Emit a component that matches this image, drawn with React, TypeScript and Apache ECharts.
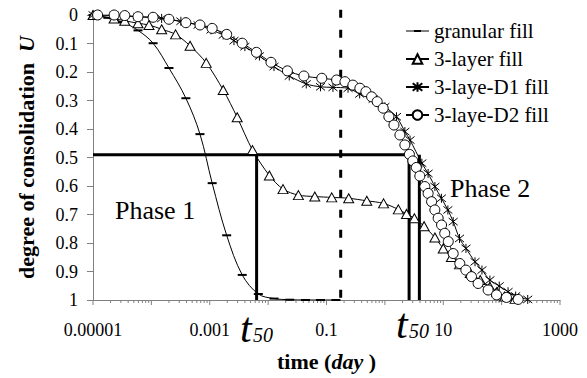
import React, { useEffect, useRef } from 'react';
import * as echarts from 'echarts';

// x-axis decade labels (every second decade is labelled)
const xTickLabels = ['0.00001', '0.001', '0.1', '10', '1000'];

// granular fill
const granularT = [1e-5, 1.8e-5, 3.2e-5, 5.9e-5, 1.07e-4, 2.0e-4, 3.9e-4, 6.8e-4, 1.1e-3, 1.95e-3, 3.6e-3, 6.8e-3, 0.0126, 0.0234, 0.0437, 0.079, 0.145];
const granularU = [0, 0.01, 0.025, 0.054, 0.099, 0.186, 0.292, 0.418, 0.59, 0.773, 0.912, 0.979, 0.995, 0.999, 1, 1, 1];

// 3-layer fill
const layer3T = [1e-5, 2.3e-5, 3.5e-5, 5.9e-5, 9.1e-5, 1.5e-4, 2.6e-4, 4.6e-4, 8.7e-4, 1.7e-3, 2.95e-3, 5.4e-3, 0.0105, 0.018, 0.033, 0.063, 0.123, 0.24, 0.49, 0.95, 1.7, 2.35, 3.2, 4.7, 7.2, 10, 13.8, 19, 29, 43, 63, 83, 112, 170];
const layer3U = [0, 0.012, 0.02, 0.029, 0.035, 0.05, 0.068, 0.108, 0.168, 0.263, 0.359, 0.474, 0.563, 0.611, 0.632, 0.637, 0.64, 0.643, 0.652, 0.661, 0.682, 0.698, 0.713, 0.741, 0.781, 0.819, 0.849, 0.875, 0.905, 0.93, 0.954, 0.972, 0.988, 0.996];

// 3-laye-D1 fill
const d1T = [1e-5, 2.3e-5, 5.9e-5, 1.5e-4, 3.2e-4, 6.3e-4, 1.05e-3, 1.7e-3, 2.6e-3, 4.0e-3, 7.1e-3, 0.0126, 0.023, 0.045, 0.079, 0.129, 0.234, 0.37, 0.63, 1.0, 1.58, 2.2, 2.7, 4.3, 5.5, 7.2, 9.3, 12, 14.8, 19, 24.5, 35, 46, 63, 91, 129, 174, 280];
const d1U = [0, 0.002, 0.006, 0.012, 0.022, 0.035, 0.052, 0.07, 0.09, 0.111, 0.144, 0.181, 0.214, 0.242, 0.252, 0.254, 0.257, 0.277, 0.295, 0.322, 0.357, 0.409, 0.439, 0.52, 0.556, 0.602, 0.643, 0.684, 0.725, 0.784, 0.819, 0.866, 0.895, 0.93, 0.951, 0.971, 0.986, 0.998];

// 3-laye-D2 fill
const d2T = [1.2e-5, 2.3e-5, 3.5e-5, 5.9e-5, 1.07e-4, 2.0e-4, 3.9e-4, 6.8e-4, 1.1e-3, 1.95e-3, 3.6e-3, 6.3e-3, 0.0112, 0.0214, 0.041, 0.083, 0.149, 0.207, 0.283, 0.373, 0.473, 0.592, 0.738, 0.935, 1.17, 1.43, 1.81, 2.2, 2.63, 3.01, 3.46, 3.97, 4.84, 5.51, 6.31, 7.18, 8.18, 9.36, 10.6, 12.2, 14.8, 19.2, 24.4, 30.5, 39.6, 58.7, 81.8, 121, 192];
const d2U = [0, 0, 0.002, 0.006, 0.008, 0.015, 0.027, 0.035, 0.047, 0.068, 0.099, 0.131, 0.166, 0.196, 0.214, 0.222, 0.228, 0.234, 0.246, 0.257, 0.269, 0.287, 0.304, 0.327, 0.357, 0.386, 0.421, 0.456, 0.489, 0.512, 0.535, 0.565, 0.602, 0.626, 0.655, 0.684, 0.713, 0.737, 0.766, 0.795, 0.837, 0.872, 0.895, 0.918, 0.942, 0.965, 0.982, 0.991, 0.998];

// t50 construction lines
const uHalf = 0.49;
const t50Layer3 = 0.00635;
const t50D2 = 2.6;
const t50D1 = 3.9;
const tPhaseSplit = 0.175;

const SERIF = '"Liberation Serif", "Times New Roman", serif';
const AXIS_GRAY = '#808080';

const zip = (t: number[], u: number[]) => t.map((v, i) => [v, u[i]]);

// decade and 2..9 sub-decade tick positions for the log time axis
const tickData: number[][] = [];
for (let e = -5; e <= 3; e++) {
  tickData.push([Math.pow(10, e), 5]);
  if (e < 3) {
    for (let m = 2; m <= 9; m++) tickData.push([m * Math.pow(10, e), 3]);
  }
}

const markerLine = { color: '#000', width: 1 };

const textEl = (text: string, x: number, y: number, size: number, italic = false) => ({
  type: 'text',
  x,
  y,
  style: {
    text,
    fontFamily: SERIF,
    fontSize: size,
    fontStyle: italic ? 'italic' : 'normal',
    fill: '#000',
    textAlign: 'left',
    textVerticalAlign: 'middle',
  },
});

export default function App() {
  const ref = useRef<HTMLDivElement>(null);

  useEffect(() => {
    if (!ref.current) return;
    document.body.style.margin = '0';
    const chart = echarts.init(ref.current, undefined, { renderer: 'svg' });
    const thick = { color: '#000', width: 3, join: 'round' as const, cap: 'butt' as const };

    chart.setOption({
      animation: false,
      grid: { left: 93, right: 27, top: 15, bottom: 78 },
      legend: {
        orient: 'vertical',
        left: 405,
        top: 20,
        padding: 0,
        itemWidth: 23,
        itemHeight: 12,
        itemGap: 6,
        selectedMode: false,
        textStyle: { fontFamily: SERIF, fontSize: 21, color: '#000', lineHeight: 22 },
        data: [
          { name: 'granular fill', icon: 'path://M0 0.5H23V1.5H0Z M8 0H15V2H8Z' },
          '3-layer fill',
          '3-laye-D1 fill',
          '3-laye-D2 fill',
        ],
      },
      xAxis: {
        type: 'log',
        logBase: 10,
        min: 1e-5,
        max: 1000,
        splitNumber: 8,
        name: '{b|time (}{bi|day}{b| )}',
        nameLocation: 'middle',
        nameGap: 50,
        nameTextStyle: {
          rich: {
            b: { fontFamily: SERIF, fontSize: 22, fontWeight: 'bold', color: '#000' },
            bi: { fontFamily: SERIF, fontSize: 22, fontWeight: 'bold', fontStyle: 'italic', color: '#000' },
          },
        },
        axisLine: { onZero: false, lineStyle: { color: AXIS_GRAY, width: 1 } },
        axisTick: { show: false },
        splitLine: { show: false },
        axisLabel: {
          margin: 21,
          fontFamily: SERIF,
          fontSize: 18,
          color: '#000',
          formatter: (v: number) => {
            const e = Math.round(Math.log10(v)) + 5;
            return e % 2 === 0 ? xTickLabels[e / 2] ?? '' : '';
          },
        },
      },
      yAxis: {
        type: 'value',
        inverse: true,
        min: 0,
        max: 1,
        interval: 0.1,
        name: '{b|degree of consolidation  }{bi|U}',
        nameLocation: 'middle',
        nameRotate: 90,
        nameGap: 56,
        nameTextStyle: {
          rich: {
            b: { fontFamily: SERIF, fontSize: 22, fontWeight: 'bold', color: '#000' },
            bi: { fontFamily: SERIF, fontSize: 22, fontWeight: 'bold', fontStyle: 'italic', color: '#000' },
          },
        },
        axisLine: { show: true, onZero: false, lineStyle: { color: AXIS_GRAY, width: 1 } },
        axisTick: { show: true, inside: false, length: 6, lineStyle: { color: AXIS_GRAY } },
        splitLine: { show: false },
        axisLabel: { margin: 15, fontFamily: SERIF, fontSize: 18, color: '#000' },
      },
      series: [
        {
          type: 'custom',
          silent: true,
          clip: false,
          data: tickData,
          renderItem: (_p: any, api: any) => {
            const pt = api.coord([api.value(0), 1]);
            const len = api.value(1);
            return {
              type: 'line',
              shape: { x1: pt[0], y1: pt[1], x2: pt[0], y2: pt[1] + len },
              style: { stroke: AXIS_GRAY, lineWidth: 1 },
            };
          },
        },
        {
          type: 'line',
          silent: true,
          clip: false,
          symbol: 'none',
          lineStyle: { ...thick, type: [8, 12] },
          data: [[tPhaseSplit, -0.018], [tPhaseSplit, 1]],
        },
        {
          type: 'line',
          silent: true,
          symbol: 'none',
          lineStyle: thick,
          data: [[1e-5, uHalf], [t50D2, uHalf], [t50D2, 1]],
        },
        {
          type: 'line',
          silent: true,
          symbol: 'none',
          lineStyle: thick,
          data: [[t50D1, uHalf], [t50D1, 1]],
        },
        {
          type: 'line',
          silent: true,
          symbol: 'none',
          lineStyle: thick,
          data: [[t50Layer3, uHalf], [t50Layer3, 1]],
        },
        {
          name: 'granular fill',
          type: 'line',
          smooth: 0.35,
          symbol: 'rect',
          symbolSize: [9, 2],
          itemStyle: { color: '#000' },
          lineStyle: markerLine,
          data: zip(granularT, granularU),
        },
        {
          name: '3-layer fill',
          type: 'line',
          smooth: 0.3,
          symbol: 'triangle',
          symbolSize: [10, 9],
          itemStyle: { color: '#fff', borderColor: '#000', borderWidth: 1 },
          lineStyle: markerLine,
          data: zip(layer3T, layer3U),
        },
        {
          name: '3-laye-D1 fill',
          type: 'line',
          smooth: 0.3,
          symbol: 'path://M5 0L5 10M1 1L9 9M1 9L9 1',
          symbolSize: 9,
          itemStyle: { color: '#000', borderColor: '#000', borderWidth: 1 },
          lineStyle: markerLine,
          data: zip(d1T, d1U),
        },
        {
          name: '3-laye-D2 fill',
          type: 'line',
          smooth: 0.3,
          symbol: 'circle',
          symbolSize: 10,
          itemStyle: { color: '#fff', borderColor: '#000', borderWidth: 1 },
          lineStyle: markerLine,
          data: zip(d2T, d2U),
        },
      ],
      graphic: [
        textEl('Phase 1', 115, 210, 26),
        textEl('Phase 2', 450, 188, 26),
        textEl('t', 240, 328, 42, true),
        textEl('50', 253, 335, 20, true),
        textEl('t', 396, 324, 42, true),
        textEl('50', 409, 331, 20, true),
      ],
    });

    return () => chart.dispose();
  }, []);

  return <div ref={ref} style={{ width: 587, height: 378 }} />;
}
